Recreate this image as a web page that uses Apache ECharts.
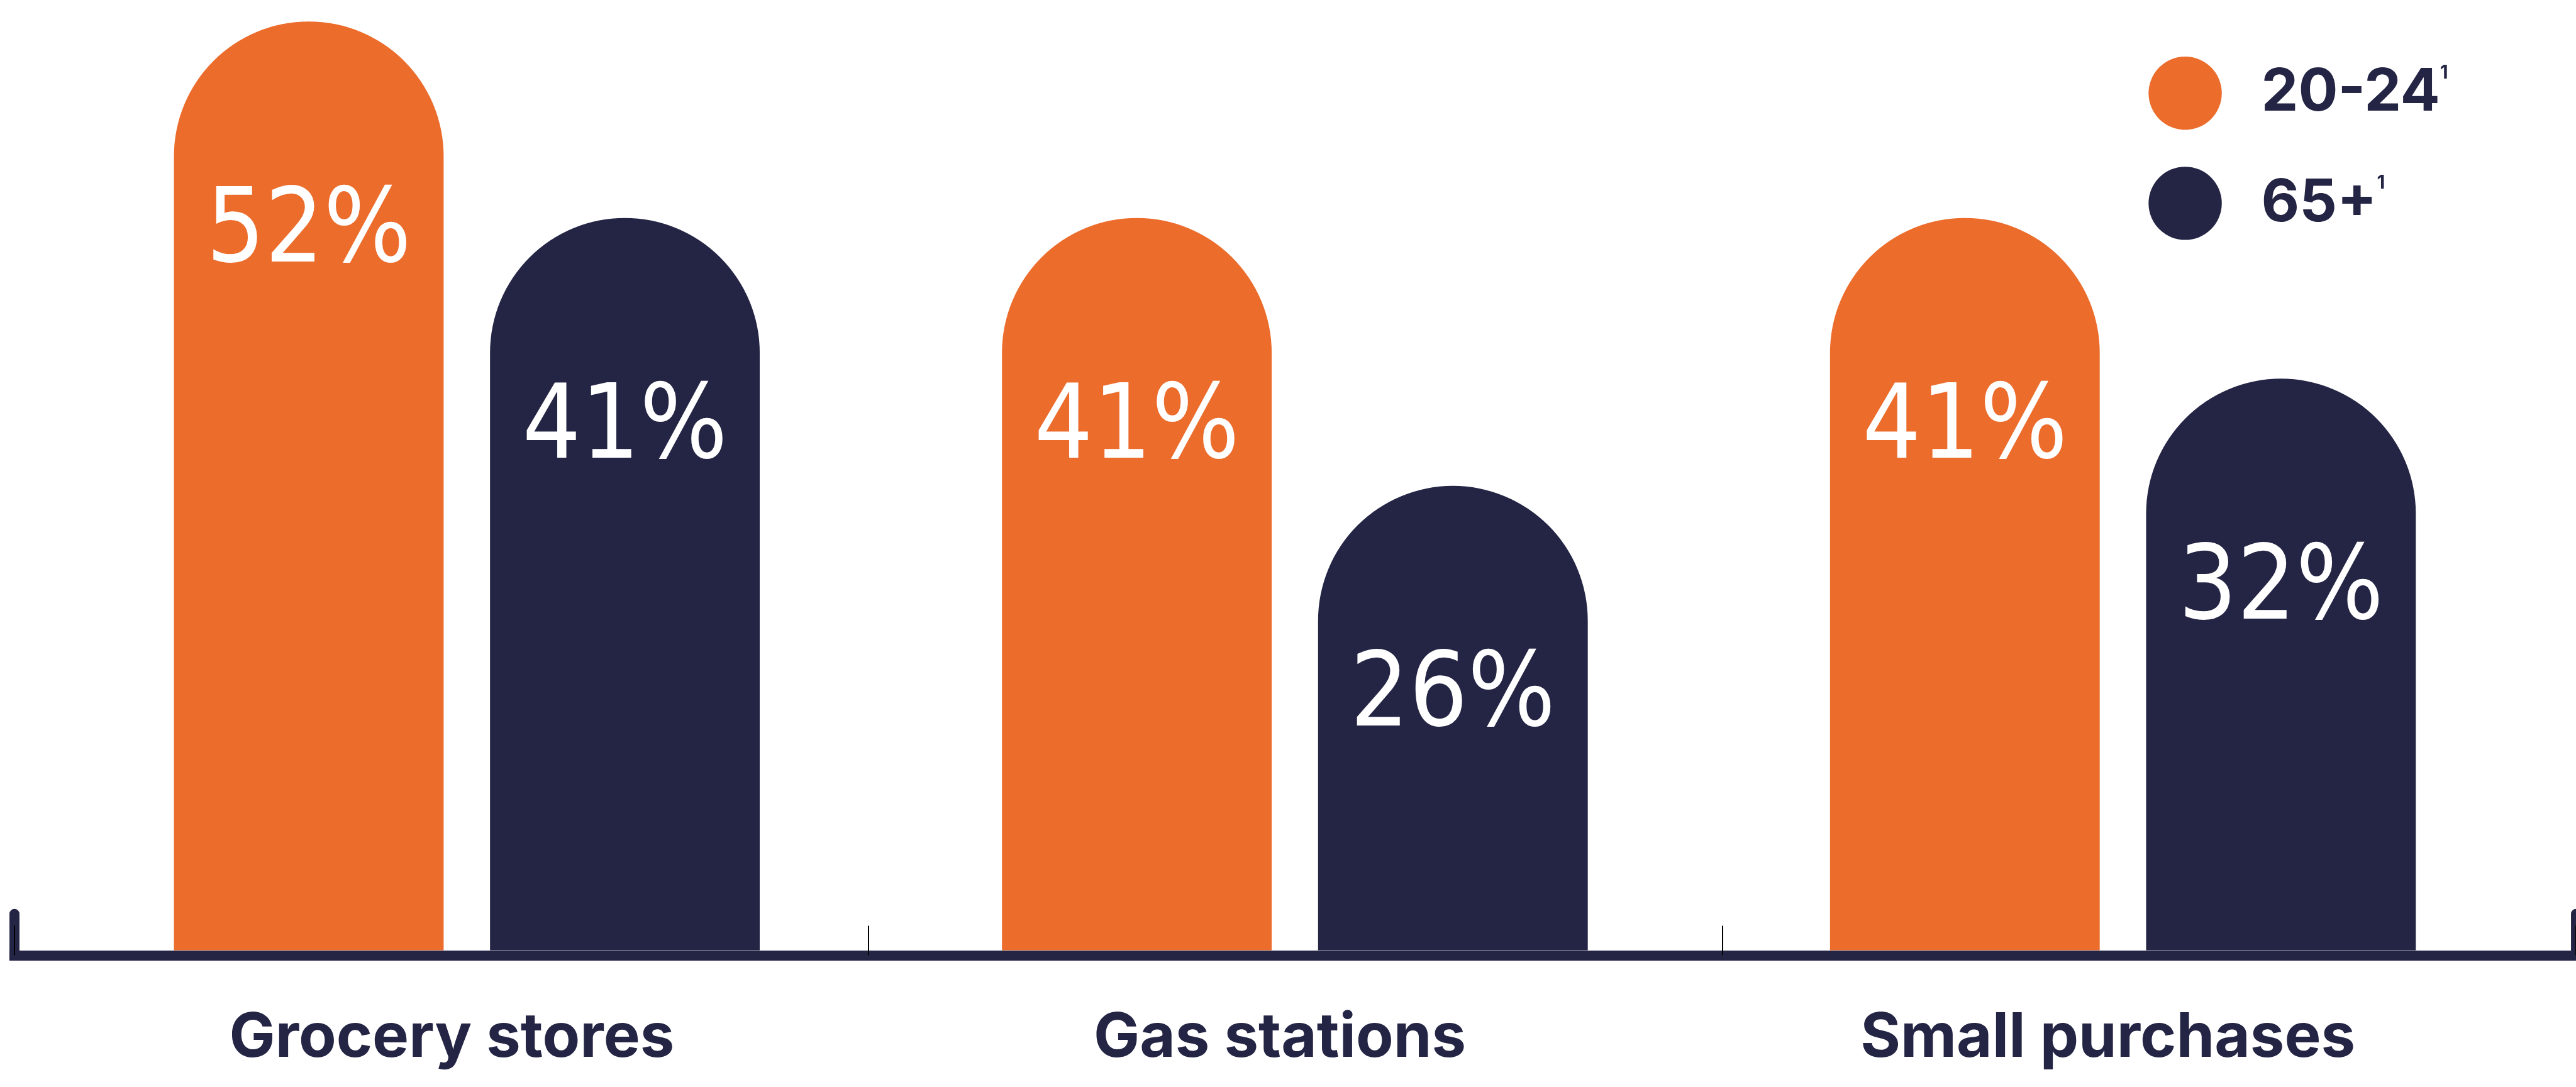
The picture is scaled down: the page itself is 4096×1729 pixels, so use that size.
<!DOCTYPE html>
<html>
<head>
<meta charset="utf-8">
<style>
  html, body { margin: 0; padding: 0; background: #ffffff; }
  #chart { width: 4096px; height: 1729px; }
</style>
<script src="https://cdn.jsdelivr.net/npm/echarts@6/dist/echarts.min.js"></script>
</head>
<body>
<div id="chart"></div>
<script>
// data
const categories = ["Grocery stores", "Gas stations", "Small purchases"];
const seriesNames = ["20-24", "65+"];
const age2024 = [52, 41, 41];
const age65 = [41, 26, 32];
const yMax = 52;

const S = 0.995; // reference -> window
const s = v => v * S;

const ORANGE = "#EC6C2C";
const NAVY = "#242544";

const chart = echarts.init(document.getElementById("chart"));

const valueLabel = {
  show: true,
  position: "insideTop",
  distance: s(259),
  formatter: "{c}%",
  color: "#ffffff",
  fontFamily: "'Liberation Sans Narrow', 'DejaVu Sans Condensed', 'Liberation Sans', sans-serif",
  fontWeight: "normal",
  fontSize: s(164)
};

const option = {
  backgroundColor: "#ffffff",
  animation: false,
  legend: {
    data: seriesNames,
    orient: "vertical",
    left: s(3428.5),
    top: s(85.5),
    itemWidth: s(117),
    itemHeight: s(117),
    itemGap: s(59),
    icon: "circle",
    selectedMode: false,
    formatter: name => `{m|${name}}{sup|1}`,
    textStyle: {
      padding: [0, 0, 0, s(58)],
      rich: {
        m: {
          fontFamily: "Inter, 'Noto Sans', sans-serif",
          fontWeight: "bold",
          fontSize: s(94),
          color: NAVY
        },
        sup: {
          fontFamily: "Inter, 'Noto Sans', sans-serif",
          fontWeight: "bold",
          fontSize: s(30),
          color: NAVY,
          verticalAlign: "top"
        }
      }
    }
  },
  grid: [
    { left: s(84.4), top: s(34.4), width: s(3969.75), height: s(1484.6) },
    { left: s(23), top: s(1461), width: s(4096), height: s(66) }
  ],
  xAxis: [
    {
      type: "category",
      gridIndex: 0,
      data: categories,
      axisLine: { show: false },
      axisTick: { show: false },
      axisLabel: {
        margin: s(92),
        padding: [0, s(48), 0, 0],
        color: NAVY,
        fontFamily: "Inter, 'Noto Sans', sans-serif",
        fontWeight: "bold",
        fontSize: s(98)
      }
    },
    {
      type: "category",
      gridIndex: 1,
      data: ["", "", ""],
      axisLine: { lineStyle: { color: NAVY, width: s(16), cap: "square" } },
      axisTick: { show: true, inside: true, length: s(47), lineStyle: { color: "#000000", width: s(2) } },
      axisLabel: { show: false }
    }
  ],
  yAxis: [
    { type: "value", gridIndex: 0, min: 0, max: yMax, show: false },
    {
      type: "value", gridIndex: 1, min: 0, max: 1, position: "left",
      axisLine: { show: true, lineStyle: { color: NAVY, width: s(16), cap: "round" } },
      axisTick: { show: false }, axisLabel: { show: false }, splitLine: { show: false }
    },
    {
      type: "value", gridIndex: 1, min: 0, max: 1, position: "right",
      axisLine: { show: true, lineStyle: { color: NAVY, width: s(16), cap: "round" } },
      axisTick: { show: false }, axisLabel: { show: false }, splitLine: { show: false }
    }
  ],
  series: [
    {
      name: seriesNames[0],
      type: "bar",
      xAxisIndex: 0,
      yAxisIndex: 0,
      data: age2024,
      barWidth: s(431),
      barGap: "17.2%",
      itemStyle: { color: ORANGE, borderRadius: [s(215.5), s(215.5), 0, 0] },
      label: valueLabel
    },
    {
      name: seriesNames[1],
      type: "bar",
      xAxisIndex: 0,
      yAxisIndex: 0,
      data: age65,
      barWidth: s(431),
      itemStyle: { color: NAVY, borderRadius: [s(215.5), s(215.5), 0, 0] },
      label: valueLabel
    }
  ]
};

chart.setOption(option);
</script>
</body>
</html>
